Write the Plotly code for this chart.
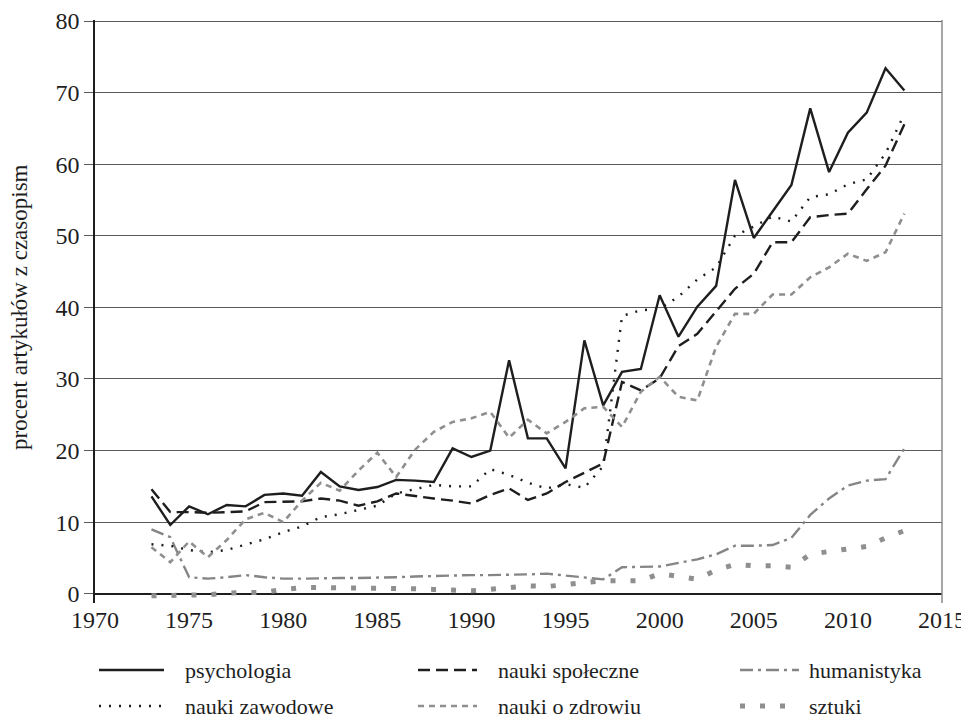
import plotly.graph_objects as go

years = list(range(1973, 2014))

psychologia = [13.6, 9.6, 12.2, 11.1, 12.4, 12.2, 13.8, 14.0, 13.7, 17.0,
               15.0, 14.5, 14.9, 15.9, 15.8, 15.6, 20.3, 19.1, 20.0, 32.6,
               21.7, 21.7, 17.5, 35.4, 26.3, 31.0, 31.4, 41.7, 35.9, 40.1,
               43.0, 57.8, 49.7, 53.4, 57.1, 67.8, 58.9, 64.4, 67.2, 73.4, 70.3]

nauki_spoleczne = [14.6, 11.4, 11.4, 11.3, 11.4, 11.5, 12.8, 12.8, 12.9, 13.3,
                   13.0, 12.3, 12.9, 14.0, 13.6, 13.3, 13.0, 12.6, 13.8, 14.7,
                   13.1, 14.0, 15.6, 16.9, 18.2, 29.6, 28.4, 30.1, 34.6, 36.3,
                   39.5, 42.6, 44.7, 49.1, 49.1, 52.6, 52.9, 53.1, 56.5, 59.8, 65.6]

humanistyka = [9.0, 7.9, 2.3, 2.1, 2.3, 2.6, 2.3, 2.1, 2.1, 2.2,
               2.2, 2.2, 2.2, 2.3, 2.4, 2.5, 2.5, 2.6, 2.6, 2.6,
               2.7, 2.8, 2.5, 2.2, 2.0, 3.7, 3.8, 3.8, 4.3, 4.8,
               5.5, 6.7, 6.7, 6.8, 7.8, 11.0, 13.3, 15.1, 15.8, 16.0, 20.3]

nauki_zawodowe = [6.9, 6.7, 6.1, 5.8, 6.1, 6.8, 7.6, 8.6, 9.4, 10.7,
                  11.1, 11.7, 12.3, 14.0, 14.6, 15.2, 15.0, 15.0, 17.4, 16.6,
                  15.5, 14.7, 15.3, 14.8, 17.8, 38.8, 39.6, 39.8, 41.5, 43.9,
                  45.6, 50.0, 51.3, 52.7, 52.0, 55.4, 55.8, 57.2, 57.9, 61.5, 67.0]

nauki_o_zdrowiu = [6.5, 4.4, 7.3, 5.1, 7.5, 10.4, 11.3, 10.0, 13.0, 15.5,
                   14.4, 17.2, 19.7, 16.3, 20.1, 22.6, 24.0, 24.5, 25.4, 21.8,
                   24.3, 22.4, 24.0, 25.9, 26.1, 23.3, 28.2, 30.3, 27.5, 27.0,
                   34.5, 39.1, 39.1, 41.8, 41.8, 44.2, 45.6, 47.5, 46.5, 47.7, 53.1]

sztuki = [-0.3, -0.3, -0.3, -0.15, 0.1, 0.15, 0.2, 0.6, 0.85, 0.85,
          0.85, 0.85, 0.8, 0.75, 0.7, 0.6, 0.5, 0.4, 0.6, 0.9,
          1.1, 1.0, 1.3, 1.6, 1.8, 1.8, 1.8, 2.8, 2.4, 2.0,
          3.3, 4.1, 3.9, 3.9, 3.7, 5.5, 5.9, 6.2, 6.6, 7.8, 8.8]

x_ticks = [1970, 1975, 1980, 1985, 1990, 1995, 2000, 2005, 2010, 2015]
y_ticks = [0, 10, 20, 30, 40, 50, 60, 70, 80]
y_title = "procent artykułów z czasopism"

# series: (name, values, colour, width, dash)
series = [
    ("psychologia", psychologia, "#1e1e1e", 2.4, "solid"),
    ("nauki społeczne", nauki_spoleczne, "#1e1e1e", 2.4, "12px,6px"),
    ("humanistyka", humanistyka, "#858585", 2.4, "13px,5px,3px,5px"),
    ("nauki zawodowe", nauki_zawodowe, "#1e1e1e", 2.4, "2px,8px"),
    ("nauki o zdrowiu", nauki_o_zdrowiu, "#8f8f8f", 2.6, "6px,5px"),
    ("sztuki", sztuki, "#8f8f8f", 5, "5px,15px"),
]

FONT = "Liberation Serif"
OFF = 8  # page body margin
W, H = 969 - OFF, 721 - OFF
L = 95 - OFF
T = 20 - OFF
R = W - (942 - OFF)
B = H - (603 - OFF)
plot_w = W - L - R
plot_h = H - T - B

fig = go.Figure()
for name, vals, col, wd, dash in series:
    fig.add_trace(go.Scatter(x=years, y=vals, mode="lines", name=name,
                             line=dict(color=col, width=wd, dash=dash),
                             showlegend=False))

def px_x(px):
    return (px - OFF - L) / plot_w

def px_y(py):
    return (H - B - (py - OFF)) / plot_h

shapes = []
annotations = []
# right border
shapes.append(dict(type="line", xref="paper", yref="paper", x0=1, x1=1, y0=0, y1=1,
                   line=dict(color="#8a8a8a", width=1.5)))

# manual legend
cols = [(99, 164, 184), (418, 477, 497), (740, 799, 808)]
rows = [670, 706]
for i, (name, vals, col, wd, dash) in enumerate(series):
    r = i // 3
    c = i % 3
    x0, x1, xt = cols[c]
    yy = rows[r]
    shapes.append(dict(type="line", xref="paper", yref="paper",
                       x0=px_x(x0), x1=px_x(x1), y0=px_y(yy), y1=px_y(yy),
                       line=dict(color=col, width=wd, dash=dash)))
    annotations.append(dict(xref="paper", yref="paper", x=px_x(xt), y=px_y(yy),
                            text=name, showarrow=False, xanchor="left", yanchor="middle",
                            borderpad=0,
                            font=dict(family=FONT, size=22, color="#1e1e1e")))

annotations.append(dict(xref="paper", yref="paper", x=px_x(19), y=px_y(307),
                        text=y_title, showarrow=False, textangle=-90,
                        xanchor="center", yanchor="middle",
                        font=dict(family=FONT, size=23, color="#1e1e1e")))

fig.update_layout(
    width=W, height=H,
    margin=dict(l=L, r=R, t=T, b=B, autoexpand=False),
    paper_bgcolor="white", plot_bgcolor="white",
    font=dict(family=FONT, size=23, color="#1e1e1e"),
    shapes=shapes, annotations=annotations,
    xaxis=dict(range=[1970, 2015], tickvals=x_ticks, showgrid=False,
               showline=False, zeroline=False, ticks="",
               tickfont=dict(family=FONT, size=24, color="#1e1e1e")),
    yaxis=dict(range=[-1.3, 80.15], tickvals=y_ticks, showgrid=True,
               gridcolor="#5a5a5a", gridwidth=1.3,
               zeroline=True, zerolinecolor="#1e1e1e", zerolinewidth=1.6,
               showline=True, linecolor="#1e1e1e", linewidth=1.6,
               ticks="outside", ticklen=9, tickcolor="#5a5a5a", tickwidth=1.3,
               tickfont=dict(family=FONT, size=24, color="#1e1e1e")),
)

fig.write_html("out.html")
